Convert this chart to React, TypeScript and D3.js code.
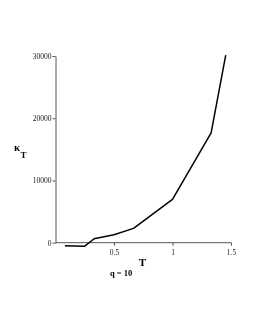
import React, { useEffect, useRef } from 'react';
import * as d3 from 'd3';

// data
const temps = [0.08, 0.25, 0.33, 0.5, 0.667, 1.0, 1.33, 1.455];
const kappa = [-480, -560, 640, 1280, 2300, 6950, 17650, 30150];
const xTicks = [0.5, 1, 1.5];
const yTicks = [0, 10000, 20000, 30000];

const App = () => {
    const svgRef = useRef<SVGSVGElement>(null);

    useEffect(() => {
        const width = 255;
        const height = 330;

        const svg = d3.select(svgRef.current)
            .attr('width', width)
            .attr('height', height);

        svg.selectAll('*').remove();

        const x = d3.scaleLinear().domain([0, 1.5]).range([55.5, 231]);
        const y = d3.scaleLinear().domain([0, 30000]).range([242.7, 56]);

        const font = '"Liberation Serif", "Times New Roman", serif';
        const root = svg.append('g').attr('opacity', 0.999);

        // x axis
        const xAxis = root.append('g')
            .attr('transform', `translate(0,${y(0)})`)
            .call(d3.axisBottom(x).tickValues(xTicks).tickSize(3).tickSizeOuter(0)
                .tickFormat(d => String(d)));
        xAxis.select('.domain').attr('d', `M${x(0)},0H${x(1.5)}`);

        // y axis
        const yAxis = root.append('g')
            .attr('transform', `translate(${x(0)},0)`)
            .call(d3.axisLeft(y).tickValues(yTicks).tickSize(3).tickSizeOuter(0)
                .tickFormat(d => String(d)));

        [xAxis, yAxis].forEach(g => {
            g.select('.domain').attr('stroke', '#555').attr('stroke-width', 1);
            g.selectAll('.tick line').attr('stroke', '#555');
            g.selectAll('.tick text')
                .attr('font-family', font)
                .attr('font-size', 7.5)
                .attr('fill', '#222');
        });
        xAxis.selectAll('.tick text').attr('dy', '0.9em');
        yAxis.selectAll('.tick text').attr('x', -4);

        // curve
        const line = d3.line<number>()
            .x((_, i) => x(temps[i]))
            .y(d => y(d));

        root.append('path')
            .datum(kappa)
            .attr('fill', 'none')
            .attr('stroke', '#000')
            .attr('stroke-width', 1.5)
            .attr('stroke-linejoin', 'round')
            .attr('d', line);

        // labels
        const kt = root.append('text')
            .attr('x', 14)
            .attr('y', 151)
            .attr('font-family', font)
            .attr('font-weight', 'bold')
            .attr('font-size', 11);
        kt.append('tspan').text('κ');
        kt.append('tspan').attr('font-size', 9).attr('dy', 7).attr('dx', 0.5).text('T');

        root.append('text')
            .attr('x', 142.5)
            .attr('y', 265.7)
            .attr('text-anchor', 'middle')
            .attr('font-family', font)
            .attr('font-weight', 'bold')
            .attr('font-size', 11)
            .text('T');

        root.append('text')
            .attr('x', 110)
            .attr('y', 275.5)
            .attr('font-family', font)
            .attr('font-weight', 'bold')
            .attr('font-size', 8.5)
            .text('q = 10');
    }, []);

    return (
        <svg ref={svgRef} style={{ position: 'absolute', left: 0, top: 0 }}></svg>
    );
};

export default App;
